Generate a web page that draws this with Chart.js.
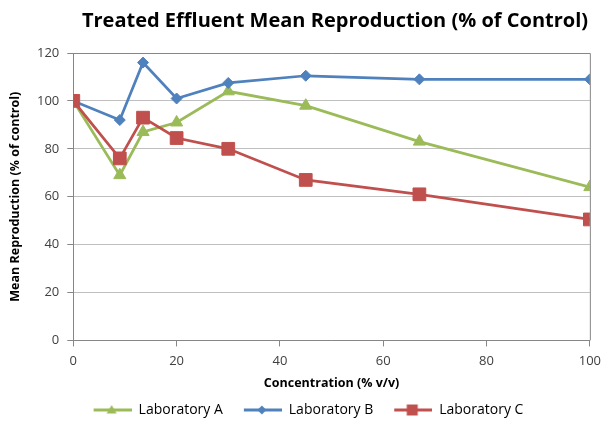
<!DOCTYPE html>
<html lang="en">
<head>
  <meta charset="UTF-8" />
  <title>Treated Effluent Mean Reproduction</title>
  <script src="https://cdn.jsdelivr.net/npm/chart.js"></script>
  <style>
    html, body {
      margin: 0;
      padding: 0;
      background: #fff;
    }
    .chart-box {
      width: 608px;
      height: 423px;
    }
  </style>
</head>
<body>
  <div class="chart-box">
    <canvas id="effluentChart" width="608" height="423"></canvas>
  </div>
  <script>
    // values
    const concentration = [0, 9, 13.5, 20, 30, 45, 67, 100];
    const labA = [100, 69, 87, 91, 104, 98, 83, 64];
    const labB = [100, 92, 116, 101, 107.5, 110.5, 109, 109];
    const labC = [100, 76, 93, 84.5, 80, 67, 61, 50.5];
    const seriesNames = ["Laboratory A", "Laboratory B", "Laboratory C"];
    const xTicks = [0, 20, 40, 60, 80, 100];
    const yTicks = [0, 20, 40, 60, 80, 100, 120];

    const FONT = "'Open Sans', Lato, sans-serif";

    function toPoints(values) {
      return concentration.map((x, i) => ({ x: x, y: values[i] }));
    }

    function series(label, values, color, style, radius, order) {
      return {
        label: label,
        data: toPoints(values),
        borderColor: color,
        backgroundColor: color,
        borderWidth: 2.75,
        pointStyle: style,
        pointRadius: radius,
        pointHoverRadius: radius,
        pointBorderWidth: 1,
        tension: 0,
        order: order
      };
    }

    // line + marker icon for the legend, with some blank room on its left
    const ICON_GAP = 17;
    const ICON_LEN = 38;
    function legendIcon(ds) {
      const c = document.createElement("canvas");
      c.width = ICON_GAP + ICON_LEN;
      c.height = 16;
      const g = c.getContext("2d");
      const mid = ICON_GAP + ICON_LEN / 2 - 1;
      g.strokeStyle = ds.borderColor;
      g.fillStyle = ds.borderColor;
      g.lineWidth = 3;
      g.beginPath();
      g.moveTo(ICON_GAP, 8);
      g.lineTo(ICON_GAP + ICON_LEN, 8);
      g.stroke();
      g.beginPath();
      if (ds.pointStyle === "triangle") {
        g.moveTo(mid, 3);
        g.lineTo(mid + 5, 11.5);
        g.lineTo(mid - 5, 11.5);
      } else if (ds.pointStyle === "rectRot") {
        g.moveTo(mid, 3.5);
        g.lineTo(mid + 4.5, 8);
        g.lineTo(mid, 12.5);
        g.lineTo(mid - 4.5, 8);
      } else {
        g.rect(mid - 5.5, 2.5, 11, 11);
      }
      g.closePath();
      g.fill();
      return c;
    }

    const plotFrame = {
      id: "plotFrame",
      afterDatasetsDraw(chart) {
        const a = chart.chartArea;
        const ctx = chart.ctx;
        ctx.save();
        ctx.strokeStyle = "#868686";
        ctx.lineWidth = 1;
        ctx.beginPath();
        ctx.moveTo(a.left, a.top + 0.5);
        ctx.lineTo(a.right + 0.5, a.top + 0.5);
        ctx.lineTo(a.right + 0.5, a.bottom);
        ctx.stroke();
        ctx.restore();
      },
      afterDraw(chart) {
        const ctx = chart.ctx;
        ctx.save();
        ctx.font = "bold 20px " + FONT;
        ctx.fillStyle = "#000";
        ctx.textAlign = "center";
        ctx.textBaseline = "middle";
        ctx.fillText("Treated Effluent Mean Reproduction (% of Control)", 335, 21);
        ctx.restore();
      }
    };

    new Chart(document.getElementById("effluentChart"), {
      type: "line",
      data: {
        datasets: [
          series(seriesNames[0], labA, "#9bbb59", "triangle", 7, 3),
          series(seriesNames[1], labB, "#4f81bd", "rectRot", 5.5, 2),
          series(seriesNames[2], labC, "#c0504d", "rect", 9, 1)
        ]
      },
      plugins: [plotFrame],
      options: {
        responsive: false,
        animation: false,
        layout: {
          padding: { top: 53, right: 16, left: 8, bottom: -4 }
        },
        plugins: {
          title: { display: false },
          tooltip: { enabled: false },
          legend: {
            position: "bottom",
            labels: {
              font: { family: FONT, size: 14 },
              color: "#404040",
              usePointStyle: true,
              pointStyleWidth: ICON_GAP + ICON_LEN,
              boxHeight: 16,
              padding: 4,
              generateLabels(chart) {
                return chart.data.datasets.map((ds, i) => ({
                  text: ds.label,
                  pointStyle: legendIcon(ds),
                  fillStyle: ds.borderColor,
                  strokeStyle: ds.borderColor,
                  lineWidth: 0,
                  hidden: false,
                  datasetIndex: i
                }));
              }
            }
          }
        },
        scales: {
          x: {
            type: "linear",
            min: xTicks[0],
            max: xTicks[xTicks.length - 1],
            afterBuildTicks(axis) {
              axis.ticks = xTicks.map(v => ({ value: v }));
            },
            grid: {
              drawOnChartArea: false,
              tickLength: 6,
              tickColor: "#868686"
            },
            border: { color: "#868686" },
            ticks: {
              font: { family: FONT, size: 13 },
              color: "#404040",
              padding: 7,
              maxRotation: 0
            },
            title: {
              display: true,
              text: "Concentration (% v/v)",
              font: { family: FONT, size: 12.5, weight: "bold" },
              color: "#000",
              padding: { top: 0, bottom: 8 }
            }
          },
          y: {
            min: yTicks[0],
            max: yTicks[yTicks.length - 1],
            afterBuildTicks(axis) {
              axis.ticks = yTicks.map(v => ({ value: v }));
            },
            grid: {
              color: "#bfbfbf",
              tickLength: 6,
              tickColor: "#868686"
            },
            border: { color: "#868686" },
            ticks: {
              font: { family: FONT, size: 13 },
              color: "#404040",
              padding: 8
            },
            title: {
              display: true,
              text: "Mean Reproduction (% of control)",
              font: { family: FONT, size: 12.5, weight: "bold" },
              color: "#000",
              padding: { top: 0, bottom: 6 }
            }
          }
        }
      }
    });
  </script>
</body>
</html>
